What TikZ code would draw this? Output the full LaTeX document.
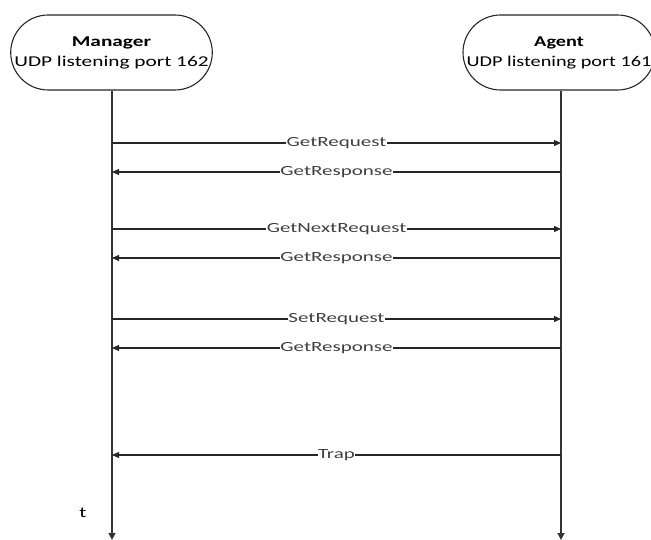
\documentclass[tikz,border=0pt]{standalone}
\usepackage{fontspec}
\usepackage{graphicx}
\setmainfont{Carlito}
\usetikzlibrary{arrows.meta,shapes.misc}
\newcommand\widetext[2]{\scalebox{#1}[1]{#2}}
\begin{document}
\begin{tikzpicture}[x=1pt,y=-1pt,
  party/.style={draw=black!85,line width=1.1pt,rounded rectangle,minimum width=199pt,minimum height=75pt,align=center,font=\fontsize{15}{20}\selectfont,inner sep=0pt},
  life/.style={draw=black!80,line width=1.4pt,-{Triangle[length=7pt,width=7pt]}},
  msg/.style={draw=black!85,line width=1.1pt,-{Triangle[length=7pt,width=6pt]}},
  lbl/.style={fill=white,text=black!75,inner sep=0.5pt,font=\fontsize{14}{16}\selectfont}]
\useasboundingbox (0,0) rectangle (651,540);
\clip (0,0) rectangle (651,540);
\node[party] (mgr) at (111.5,52.5) {\widetext{1.42}{\textbf{Manager}}\\\widetext{1.42}{UDP listening port 162}};
\node[party,minimum width=190pt] (agt) at (559,52.5) {\widetext{1.35}{\textbf{Agent}}\\\widetext{1.35}{UDP listening port 161}};
\coordinate (mend) at (112,540);
\coordinate (aend) at (561,540);
\draw[life] (mgr.south -| mend) -- (mend);
\draw[life] (agt.south -| aend) -- (aend);
\foreach \n/\y in {1/143,2/172,3/229,4/258,5/319,6/348,7/455}{
  \coordinate (m\n) at (112,\y);
  \coordinate (a\n) at (561,\y);
}
\draw[msg] (m1) -- node[lbl] (l1) {\widetext{1.5}{GetRequest}} (a1);
\draw[msg] (a2) -- node[lbl] (l2) {\widetext{1.5}{GetResponse}} (m2);
\draw[msg] (m3) -- node[lbl] (l3) {\widetext{1.5}{GetNextRequest}} (a3);
\draw[msg] (a4) -- node[lbl] (l4) {\widetext{1.5}{GetResponse}} (m4);
\draw[msg] (m5) -- node[lbl] (l5) {\widetext{1.5}{SetRequest}} (a5);
\draw[msg] (a6) -- node[lbl] (l6) {\widetext{1.5}{GetResponse}} (m6);
\draw[msg] (a7) -- node[lbl] (l7) {\widetext{1.5}{Trap}} (m7);
\node[font=\fontsize{15}{16}\selectfont] (t) at (83,513) {\widetext{1.4}{t}};
\end{tikzpicture}
\end{document}
